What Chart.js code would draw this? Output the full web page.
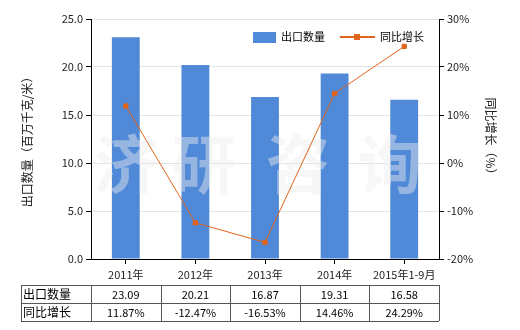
<!DOCTYPE html>
<html>
<head>
<meta charset="utf-8">
<script src="https://cdn.jsdelivr.net/npm/chart.js@4.4.0/dist/chart.umd.min.js"></script>
<style>
  html, body { margin: 0; padding: 0; background: #fff; }
  #wrap { width: 520px; height: 330px; position: relative; }
</style>
</head>
<body>
<div id="wrap"><canvas id="c"></canvas></div>
<script>
const categories = ['2011年', '2012年', '2013年', '2014年', '2015年1-9月'];
const exportQty = [23.09, 20.21, 16.87, 19.31, 16.58];
const growth = [11.87, -12.47, -16.53, 14.46, 24.29];
const qtyLabels = ['23.09', '20.21', '16.87', '19.31', '16.58'];
const growthLabels = ['11.87%', '-12.47%', '-16.53%', '14.46%', '24.29%'];

const FONT = '"Noto Sans CJK SC", "Microsoft YaHei", sans-serif';
const BAR = '#4f89d8';
const LINE = '#e0641c';

// watermark drawn right after the bars, under the line
const watermark = {
    id: 'watermark',
    afterDatasetDraw(chart, args) {
        if (args.index !== 0) return;
        const c = chart.ctx;
        c.save();
        c.font = 'bold 64px ' + FONT;
        c.fillStyle = 'rgba(238,238,238,0.45)';
        c.textAlign = 'center';
        c.textBaseline = 'middle';
        const xs = [126, 204, 298, 390];
        '济研咨询'.split('').forEach((ch, i) => c.fillText(ch, xs[i], 164));
        c.restore();
    }
};

const legendAndTable = {
    id: 'legendAndTable',
    afterDraw(chart) {
        const c = chart.ctx;
        const x = chart.scales.x;
        c.save();
        // legend
        c.font = '11px ' + FONT;
        c.textBaseline = 'middle';
        c.fillStyle = BAR;
        c.fillRect(253, 32, 23, 11);
        c.fillStyle = '#000';
        c.fillText('出口数量', 281, 37);
        c.strokeStyle = LINE;
        c.lineWidth = 2;
        c.beginPath(); c.moveTo(340, 37); c.lineTo(375, 37); c.stroke();
        c.fillStyle = LINE;
        c.fillRect(354, 34, 6, 6);
        c.fillStyle = '#000';
        c.fillText('同比增长', 380, 37);

        // table
        const top = 285, rowH = 18, left = 21, right = chart.chartArea.right;
        const colL = chart.chartArea.left;
        c.strokeStyle = '#555';
        c.lineWidth = 1;
        c.beginPath();
        for (let r = 0; r <= 2; r++) {
            c.moveTo(left, top + r * rowH + 0.5);
            c.lineTo(right, top + r * rowH + 0.5);
        }
        const step = (right - colL) / categories.length;
        const vlines = [left, colL];
        for (let i = 1; i <= categories.length; i++) vlines.push(colL + i * step);
        vlines.forEach(v => {
            c.moveTo(Math.round(v) + 0.5, top);
            c.lineTo(Math.round(v) + 0.5, top + 2 * rowH);
        });
        c.stroke();
        c.fillStyle = '#000';
        c.font = '12px ' + FONT;
        c.textAlign = 'left';
        c.fillText('出口数量', left + 2, top + rowH / 2);
        c.fillText('同比增长', left + 2, top + rowH * 1.5);
        c.font = '11px ' + FONT;
        c.textAlign = 'center';
        categories.forEach((_, i) => {
            const cx = x.getPixelForValue(i);
            c.fillText(qtyLabels[i], cx, top + rowH / 2 + 1);
            c.fillText(growthLabels[i], cx, top + rowH * 1.5 + 1);
        });
        c.restore();
    }
};

Chart.defaults.font.family = FONT;
Chart.defaults.font.size = 11;
Chart.defaults.color = '#222';

new Chart(document.getElementById('c'), {
    data: {
        labels: categories,
        datasets: [
            {
                type: 'bar',
                label: '出口数量',
                data: exportQty,
                backgroundColor: BAR,
                yAxisID: 'y',
                order: 1,
                categoryPercentage: 1,
                barPercentage: 0.4
            },
            {
                type: 'line',
                label: '同比增长',
                data: growth,
                borderColor: LINE,
                backgroundColor: LINE,
                borderWidth: 1,
                pointStyle: 'rect',
                pointRadius: 3,
                tension: 0,
                yAxisID: 'y1',
                order: 0
            }
        ]
    },
    options: {
        responsive: true,
        maintainAspectRatio: false,
        animation: false,
        layout: { padding: { top: 19, left: 0, right: 0, bottom: 0 } },
        plugins: {
            legend: { display: false },
            tooltip: { enabled: false }
        },
        scales: {
            x: {
                offset: true,
                grid: { offset: false, drawOnChartArea: false, drawTicks: true, tickLength: 5, color: '#000' },
                border: { color: '#000' },
                ticks: { padding: 4, maxRotation: 0 },
                afterFit(scale) { scale.height = 71; }
            },
            y: {
                position: 'left',
                min: 0, max: 25,
                ticks: { stepSize: 5, callback: v => v.toFixed(1), padding: 3 },
                grid: { color: '#e4e4e4', tickLength: 5, tickColor: '#000' },
                border: { color: '#000' },
                title: { display: true, text: '出口数量（百万千克/米）', font: { size: 12 }, padding: { top: 20, bottom: 0 } },
                afterFit(scale) { scale.width = 91; }
            },
            y1: {
                position: 'right',
                min: -20, max: 30,
                ticks: { stepSize: 10, callback: v => v + '%', padding: 3 },
                grid: { drawOnChartArea: false, tickLength: 5, color: '#000' },
                border: { color: '#000' },
                title: { display: true, text: '同比增长（%）', font: { size: 12 }, padding: { top: 22, bottom: 0 } },
                afterFit(scale) { scale.width = 81; }
            }
        }
    },
    plugins: [watermark, legendAndTable]
});
</script>
</body>
</html>
